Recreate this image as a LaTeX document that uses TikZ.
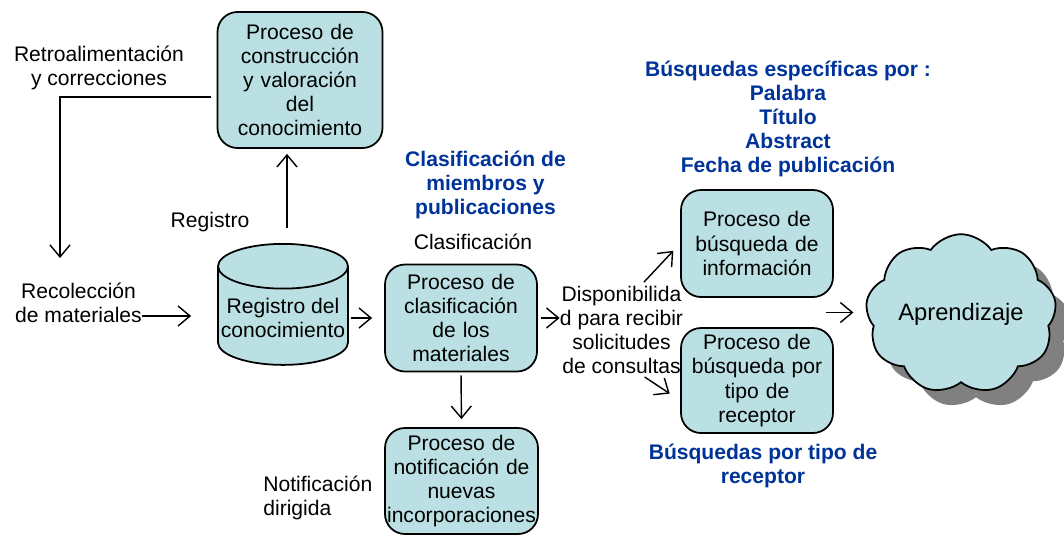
\documentclass[tikz,border=0pt]{standalone}
\usepackage{fontspec}
\setmainfont{Liberation Sans}
\usepackage{tikz}
\usetikzlibrary{arrows.meta,positioning,calc,shapes.geometric,shapes.symbols,shadows}
\definecolor{BoxFill}{RGB}{187,224,227}
\definecolor{TitleBlue}{RGB}{0,51,153}
\definecolor{ShadowGray}{RGB}{128,128,128}

\begin{document}
\begin{tikzpicture}[font=\fontsize{12}{13.7}\selectfont,
  procbox/.style={draw, line width=1pt, rounded corners=0.4cm, fill=BoxFill, align=center, inner sep=0pt, text width=3cm, minimum width=3.04cm},
  bluetext/.style={TitleBlue, font=\fontsize{12}{13.7}\selectfont\bfseries, align=center, inner sep=0pt},
  plain/.style={align=center, inner sep=0pt},
  arr/.style={-{Straight Barb[length=2.4mm,width=4mm]}, line width=0.8pt}]
  \useasboundingbox (0,0) rectangle (21.28,-10.7);

  \node[procbox, minimum width=3.3cm, minimum height=2.72cm] (cons) at (6.0,-1.6) {Proceso de\\construcción\\y valoración\\del\\conocimiento};
  \node[plain] (retro) at (1.98,-1.35) {Retroalimentación\\y correcciones};
  \node[plain] (registro) at (4.2,-4.44) {Registro};
  \node[plain] (recol) at (1.57,-6.06) {Recolección\\de materiales};
  \node[cylinder, shape border rotate=90, aspect=0.36, draw, line width=1pt, fill=BoxFill, anchor=north,
        minimum width=2.6cm, minimum height=2.42cm, align=center, inner sep=0pt] (reg) at (5.66,-4.86) {\phantom{Registro del}\\\phantom{conocimiento}};
  \node[plain] (regtext) at ([yshift=-1.49cm]reg.north) {Registro del\\conocimiento};

  \node[bluetext] (clasblue) at (9.71,-3.7) {Clasificación de\\miembros y\\publicaciones};
  \node[plain] (clasif) at (9.46,-4.84) {Clasificación};
  \node[procbox, minimum height=2.14cm] (clas) at (9.22,-6.36) {Proceso de\\clasificación\\de los\\materiales};
  \node[procbox, minimum width=3.06cm, minimum height=2.12cm] (notif) at (9.23,-9.62) {Proceso de\\notificación de\\nuevas\\incorporaciones};
  \node[plain, align=left, anchor=west] (notifdir) at (5.26,-9.95) {Notificación\\dirigida};

  \node[plain] (disp) at (12.43,-6.6) {Disponibilida\\d para recibir\\solicitudes\\de consultas};
  \node[bluetext] (busqblue1) at (15.76,-2.38) {Búsquedas específicas por :\\Palabra\\Título\\Abstract\\Fecha de publicación};
  \node[procbox, minimum height=2.14cm] (busq1) at (15.14,-4.87) {Proceso de\\búsqueda de\\información};
  \node[procbox, minimum height=2.1cm] (busq2) at (15.14,-7.61) {Proceso de\\búsqueda por\\tipo de\\receptor};
  \node[bluetext] (busqblue2) at (15.26,-9.31) {Búsquedas por tipo de\\receptor};

  \node[cloud, cloud puffs=9, cloud puff arc=110, aspect=1.3, draw, line width=1pt, fill=BoxFill,
        minimum width=3.74cm, minimum height=2.85cm, inner sep=0pt, font=\fontsize{13.5}{15}\selectfont,
        drop shadow={shadow xshift=0.3cm, shadow yshift=-0.3cm, fill=ShadowGray, opacity=1}] (cloud) at (19.22,-6.28) {Aprendizaje};

  \coordinate (fbk) at (1.2,-1.94);
  \coordinate (fbkend) at (1.2,-5.16);
  \coordinate (mid) at ($(busq1.south east)!.5!(busq2.north east)+(-0.16,0)$);

  \draw[arr, shorten <=0.12cm] ([yshift=-0.34cm]cons.west) -- (fbk) -- (fbkend);
  \draw[arr, shorten >=0.1cm] ([xshift=0.08cm,yshift=0.3cm]reg.north) -- ([xshift=0.08cm]reg.north |- cons.south);
  \draw[arr, shorten >=0.52cm] ([yshift=-0.26cm]recol.east) -- ([yshift=-0.26cm]recol.east -| reg.west);
  \draw[arr, shorten <=0.04cm, shorten >=0.24cm] (reg.east |- clas.west) -- (clas.west);
  \draw[arr, shorten <=0.06cm, shorten >=0.16cm] (clas.south) -- (notif.north);
  \draw[arr, shorten <=0.06cm] (clas.east) -- (disp.west |- clas.east);
  \draw[arr, shorten <=0.1cm, shorten >=0.2cm] ([xshift=0.38cm]disp.north) -- (busq1.west);
  \draw[arr, shorten <=0.1cm, shorten >=0.25cm] ([xshift=0.38cm]disp.south) -- ([yshift=-0.4cm]busq2.west);
  \draw[arr, shorten >=0.26cm] (mid) -- (mid -| cloud.west);
\end{tikzpicture}
\end{document}
